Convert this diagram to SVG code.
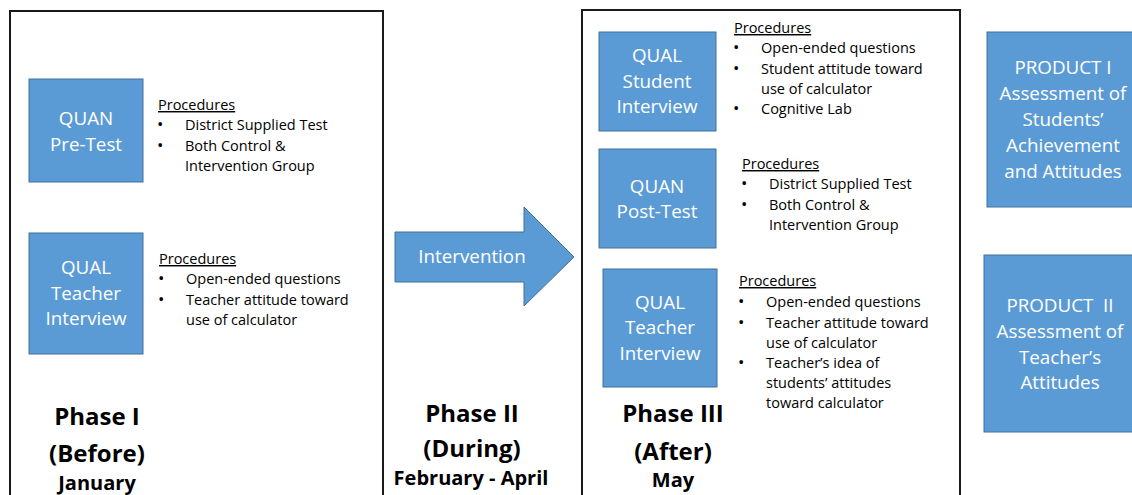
<svg xmlns="http://www.w3.org/2000/svg" width="1132" height="495" viewBox="0 0 1132 495">
<style>
.frame{fill:none;stroke:#1a1a1a;stroke-width:2}
.box{fill:#5b9bd5;stroke:#41719c;stroke-width:1}
.bt{font-family:"Open Sans","Noto Sans",sans-serif;font-size:18.8px;fill:#fff;text-anchor:middle}
.pt{font-family:"Open Sans","Noto Sans",sans-serif;font-size:14.5px;fill:#000}
.b{font-size:17px}
.ph{font-family:"Open Sans","Noto Sans",sans-serif;font-weight:bold;fill:#000;text-anchor:middle}
.u{text-decoration:underline}
</style>
<rect width="1132" height="495" fill="#fff"/>
<g id="phase1">
<rect class="frame" x="10" y="11" width="373" height="500"/>
<text class="ph" x="97" y="425" font-size="24">Phase I</text>
<text class="ph" x="97" y="462" font-size="24">(Before)</text>
<text class="ph" x="97" y="490" font-size="20">January</text>
</g>
<g id="quan-pretest">
<rect class="box" x="29" y="79" width="114" height="103"/>
<text class="bt" x="86" y="125">QUAN</text>
<text class="bt" x="86" y="151">Pre-Test</text>
</g>
<g id="proc-pretest">
<text class="pt u" x="158" y="110">Procedures</text>
<text class="pt" y="130"><tspan class="b" x="157">•</tspan><tspan x="185">District Supplied Test</tspan></text>
<text class="pt" y="151"><tspan class="b" x="157">•</tspan><tspan x="185">Both Control &amp;</tspan></text>
<text class="pt" x="185" y="171">Intervention Group</text>
</g>
<g id="qual-teacher1">
<rect class="box" x="29" y="233" width="114" height="121"/>
<text class="bt" x="86" y="274">QUAL</text>
<text class="bt" x="86" y="300">Teacher</text>
<text class="bt" x="86" y="325">Interview</text>
</g>
<g id="proc-teacher1">
<text class="pt u" x="159" y="264">Procedures</text>
<text class="pt" y="284"><tspan class="b" x="158">•</tspan><tspan x="186">Open-ended questions</tspan></text>
<text class="pt" y="305"><tspan class="b" x="158">•</tspan><tspan x="186">Teacher attitude toward</tspan></text>
<text class="pt" x="186" y="325">use of calculator</text>
</g>
<g id="connectors">
<g id="intervention">
<polygon class="box" points="395,232 524,232 524,207 574,257 524,306 524,282 395,282"/>
<text class="bt" x="472" y="263">Intervention</text>
</g>
</g>
<g id="phase2">
<text class="ph" x="472" y="422" font-size="24">Phase II</text>
<text class="ph" x="472" y="457" font-size="24">(During)</text>
<text class="ph" x="471" y="485" font-size="20">February - April</text>
</g>
<g id="phase3">
<rect class="frame" x="582" y="10" width="378" height="500"/>
<text class="ph" x="673" y="422" font-size="24">Phase III</text>
<text class="ph" x="673" y="460" font-size="24">(After)</text>
<text class="ph" x="673" y="487" font-size="20">May</text>
</g>
<g id="qual-student">
<rect class="box" x="599" y="32" width="117" height="99"/>
<text class="bt" x="657" y="62">QUAL</text>
<text class="bt" x="657" y="88">Student</text>
<text class="bt" x="657" y="113">Interview</text>
</g>
<g id="proc-student">
<text class="pt u" x="734" y="33">Procedures</text>
<text class="pt" y="53"><tspan class="b" x="733">•</tspan><tspan x="761">Open-ended questions</tspan></text>
<text class="pt" y="74"><tspan class="b" x="733">•</tspan><tspan x="761">Student attitude toward</tspan></text>
<text class="pt" x="761" y="94">use of calculator</text>
<text class="pt" y="114"><tspan class="b" x="733">•</tspan><tspan x="761">Cognitive Lab</tspan></text>
</g>
<g id="quan-posttest">
<rect class="box" x="599" y="149" width="117" height="99"/>
<text class="bt" x="657" y="193">QUAN</text>
<text class="bt" x="657" y="218">Post-Test</text>
</g>
<g id="proc-posttest">
<text class="pt u" x="742" y="169">Procedures</text>
<text class="pt" y="189"><tspan class="b" x="741">•</tspan><tspan x="769">District Supplied Test</tspan></text>
<text class="pt" y="210"><tspan class="b" x="741">•</tspan><tspan x="769">Both Control &amp;</tspan></text>
<text class="pt" x="769" y="230">Intervention Group</text>
</g>
<g id="qual-teacher2">
<rect class="box" x="603" y="269" width="114" height="118"/>
<text class="bt" x="660" y="309">QUAL</text>
<text class="bt" x="660" y="334">Teacher</text>
<text class="bt" x="660" y="360">Interview</text>
</g>
<g id="proc-teacher2">
<text class="pt u" x="739" y="286">Procedures</text>
<text class="pt" y="307"><tspan class="b" x="738">•</tspan><tspan x="766">Open-ended questions</tspan></text>
<text class="pt" y="328"><tspan class="b" x="738">•</tspan><tspan x="766">Teacher attitude toward</tspan></text>
<text class="pt" x="766" y="348">use of calculator</text>
<text class="pt" y="368"><tspan class="b" x="738">•</tspan><tspan x="766">Teacher’s idea of</tspan></text>
<text class="pt" x="766" y="388">students’ attitudes</text>
<text class="pt" x="766" y="408">toward calculator</text>
</g>
<g id="product1">
<rect class="box" x="987" y="32" width="150" height="175"/>
<text class="bt" x="1063" y="74">PRODUCT I</text>
<text class="bt" x="1063" y="100">Assessment of</text>
<text class="bt" x="1063" y="126">Students’</text>
<text class="bt" x="1063" y="152">Achievement</text>
<text class="bt" x="1063" y="178">and Attitudes</text>
</g>
<g id="product2">
<rect class="box" x="984" y="255" width="153" height="177"/>
<text class="bt" x="1060" y="312" style="white-space:pre">PRODUCT  II</text>
<text class="bt" x="1060" y="338">Assessment of</text>
<text class="bt" x="1060" y="364">Teacher’s</text>
<text class="bt" x="1060" y="389">Attitudes</text>
</g>
</svg>
